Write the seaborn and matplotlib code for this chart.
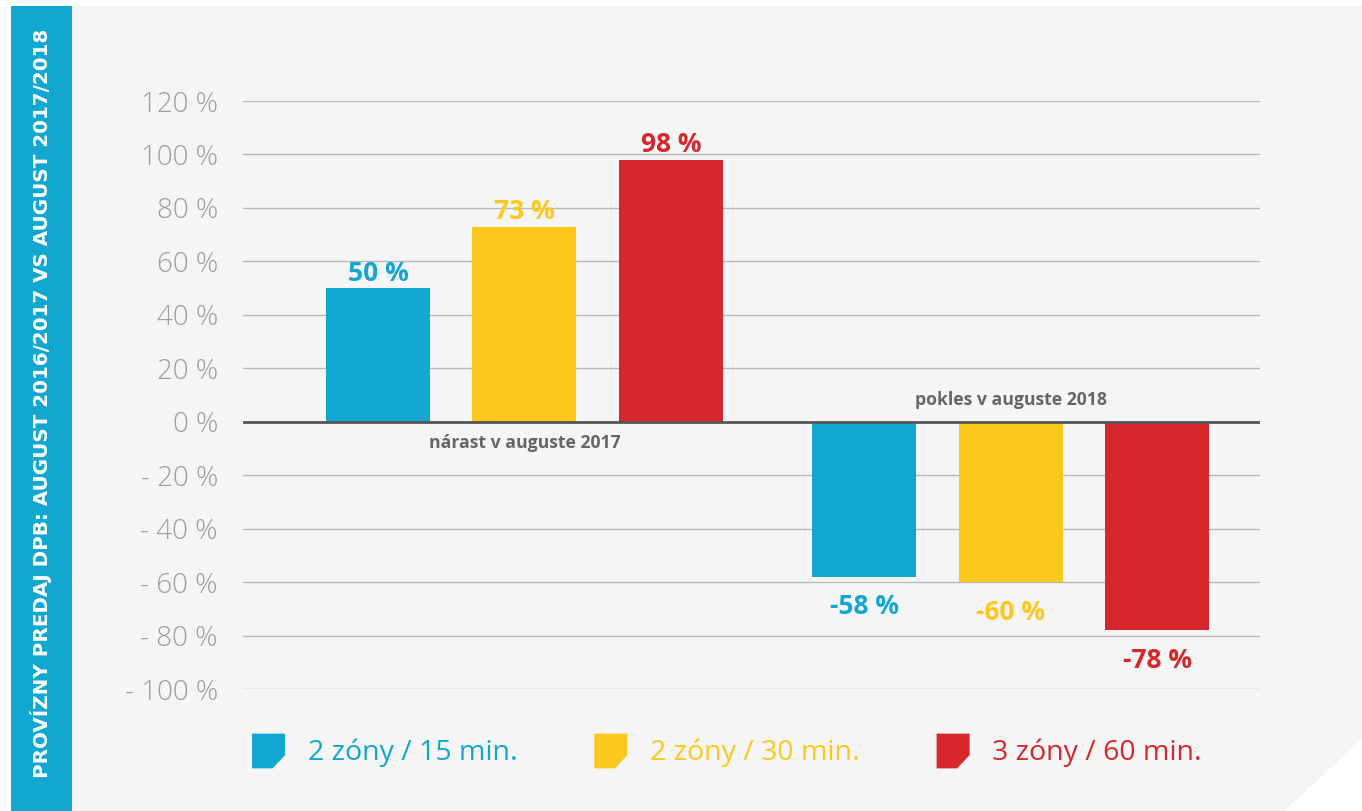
import numpy as np
import pandas as pd
import matplotlib
matplotlib.use('Agg')
import matplotlib.pyplot as plt
from matplotlib.patches import Polygon
from matplotlib.legend_handler import HandlerPatch
import seaborn as sns

# Data
periods = ['nárast v auguste 2017', 'pokles v auguste 2018']
zones = ['2 zóny / 15 min.', '2 zóny / 30 min.', '3 zóny / 60 min.']
values_2017 = [50, 73, 98]
values_2018 = [-58, -60, -78]
yticks = [120, 100, 80, 60, 40, 20, 0, -20, -40, -60, -80, -100]
title = 'PROVÍZNY PREDAJ DPB: AUGUST 2016/2017 VS AUGUST 2017/2018'

colors = ['#12a7d1', '#fdc81e', '#d6282c']

df = pd.DataFrame({
    'period': [periods[0]] * 3 + [periods[1]] * 3,
    'zone': zones * 2,
    'value': values_2017 + values_2018,
})

sns.set_style('white')
plt.rcParams['font.family'] = ['Open Sans', 'DejaVu Sans']

W, H = 1362, 811
fig = plt.figure(figsize=(W / 100, H / 100), dpi=100, facecolor='white')

# background panel with cut corner and the blue side banner
panel = Polygon([(72 / W, 1 - 6 / H), (1, 1 - 6 / H), (1, 1 - 738 / H),
                 (1285 / W, 0), (72 / W, 0)], closed=True,
                transform=fig.transFigure, facecolor='#f4f5f4', edgecolor='none', zorder=-2)
fig.patches.append(panel)
banner = Polygon([(11 / W, 1 - 6 / H), (72 / W, 1 - 6 / H), (72 / W, 0), (11 / W, 0)],
                 closed=True, transform=fig.transFigure, facecolor='#12a7d1',
                 edgecolor='none', zorder=-1)
fig.patches.append(banner)
fig.text(41 / W, 1 - 403 / H, title, rotation=90, ha='center', va='center',
         color='white', fontsize=14.3, fontweight='bold',
         family=['Liberation Sans Narrow', 'DejaVu Sans'])

ax = fig.add_axes([243 / W, 122 / H, (1260 - 243) / W, (689 - 101) / H])
ax.set_facecolor('none')

sns.barplot(data=df, x='period', y='value', hue='zone', order=periods,
            hue_order=zones, palette=colors, width=0.904, gap=0.29,
            saturation=1, legend=False, ax=ax, zorder=3, linewidth=0)

ax.set_ylim(-100, 120)
ax.set_xlim(-0.579, 1.513)
ax.set_yticks(yticks)
ax.set_yticklabels([f'{v} %' if v >= 0 else f'- {abs(v)} %' for v in yticks],
                   fontsize=20, color='#9e9e9e', fontweight='light')
ax.tick_params(axis='y', length=0, pad=18)
ax.set_xticks([])
ax.set_xlabel('')
ax.set_ylabel('')
for s in ax.spines.values():
    s.set_visible(False)
ax.yaxis.grid(True, color='#b8b8b8', lw=1)
ax.set_axisbelow(True)
ax.axhline(0, color='#555555', lw=2, zorder=4)

# value labels: positives sit close above, negatives a bit further below
for cont, c in zip(ax.containers, colors):
    vals = cont.datavalues
    ax.bar_label(cont, labels=[f'{v:.0f} %' if v > 0 else '' for v in vals], padding=1,
                 color=c, fontsize=19, fontweight='bold')
    ax.bar_label(cont, labels=[f'{v:.0f} %' if v < 0 else '' for v in vals], padding=12,
                 color=c, fontsize=19, fontweight='bold')

# group captions
ax.text(0, -7.9, periods[0], ha='center', va='center', fontsize=12.7,
        fontweight='bold', color='#666666')
ax.text(1, 8.2, periods[1], ha='center', va='center', fontsize=12.7,
        fontweight='bold', color='#666666')


# legend with cut-corner squares
def cut_square(legend, orig_handle, xdescent, ydescent, width, height, fontsize):
    x0, y0 = -xdescent, -ydescent
    pts = [(x0, y0 + height), (x0 + width, y0 + height), (x0 + width, y0 + height * 0.38),
           (x0 + width * 0.62, y0), (x0, y0)]
    return Polygon(pts, closed=True)


handles = [cont.patches[0] for cont in ax.containers]
leg = fig.legend(handles, zones, loc='center left',
                 bbox_to_anchor=(252 / W, (811 - 751) / H), ncol=3, frameon=False,
                 fontsize=20.5, handlelength=1.16, handleheight=1.5, handletextpad=0.8,
                 columnspacing=2.7, borderpad=0, borderaxespad=0,
                 handler_map={matplotlib.patches.Rectangle: HandlerPatch(patch_func=cut_square)})
for txt, c in zip(leg.get_texts(), colors):
    txt.set_color(c)

fig.savefig('out.png', dpi=100, facecolor='white')
